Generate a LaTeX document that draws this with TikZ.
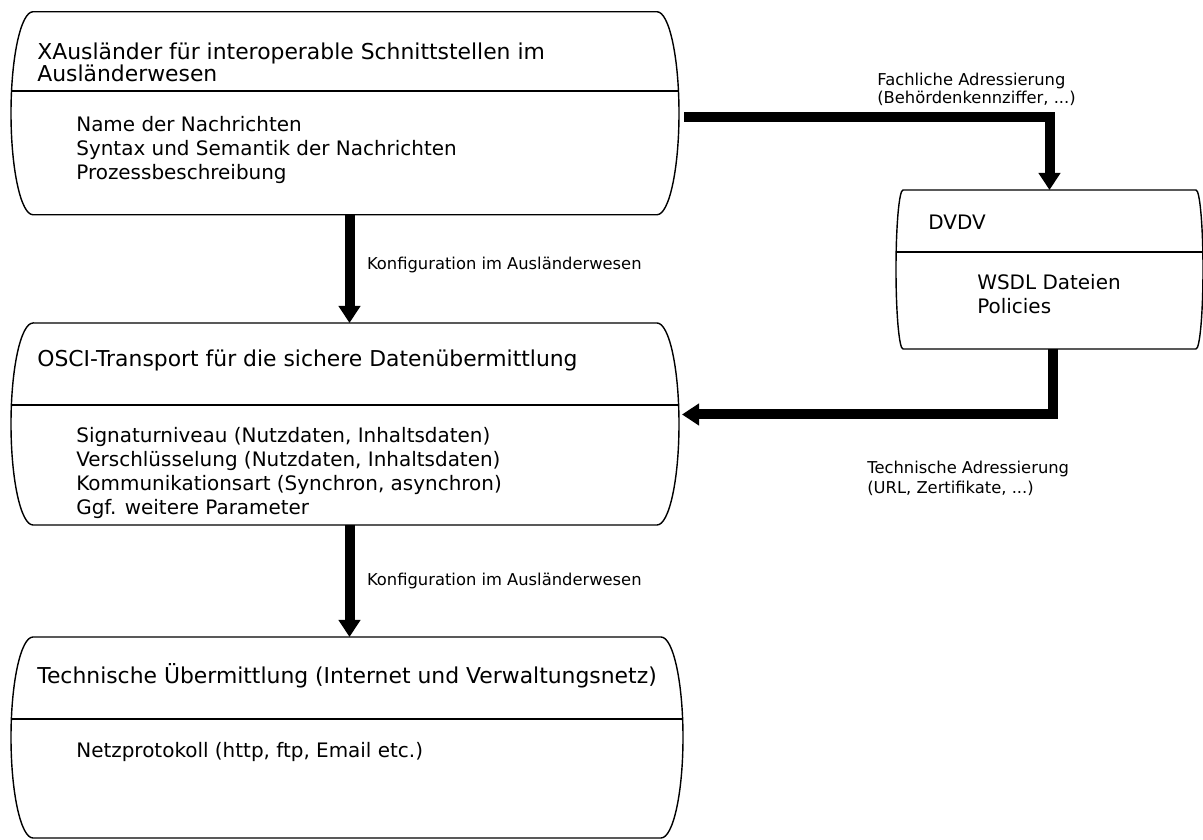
\documentclass[tikz,border=0pt]{standalone}
\usepackage{fontspec}
\setmainfont{DejaVu Sans}
\usetikzlibrary{arrows.meta,calc}

\tikzset{
  area/.style={rectangle, inner sep=0pt, outer sep=0pt},
  outline/.style={line width=0.8pt},
  divider/.style={line width=0.8pt},
  headline/.style={anchor=west, align=left, inner sep=0pt, font=\fontsize{12.45}{12.6}\selectfont},
  itemlines/.style={anchor=west, align=left, inner sep=0pt, font=\fontsize{11.35}{13.8}\selectfont},
  flowlabel/.style={anchor=west, align=left, inner sep=0pt, font=\fontsize{9.3}{10.3}\selectfont},
  flow/.style={line width=0.2cm, -{Triangle[width=0.42cm,length=0.34cm]}}
}

\begin{document}
\begin{tikzpicture}
\useasboundingbox (0,0) rectangle (24.06,16.80);

% areas
\node[area, minimum width=13.36cm, minimum height=4.06cm] (xaus) at (6.900,14.535) {};
\node[area, minimum width=13.36cm, minimum height=4.04cm] (osci) at (6.900,8.320) {};
\node[area, minimum width=13.44cm, minimum height=4.02cm] (netz) at (6.940,2.050) {};
\node[area, minimum width=6.14cm, minimum height=3.18cm] (dvdv) at (20.990,11.410) {};

% outlines
\draw[outline] ($(xaus.north west)+(0.44,0)$) -- ($(xaus.north east)+(-0.44,0)$)
  arc[start angle=90, end angle=-90, x radius=0.44, y radius=2.03]
  -- ($(xaus.south west)+(0.44,0)$)
  arc[start angle=270, end angle=90, x radius=0.44, y radius=2.03] -- cycle;
\draw[outline] ($(osci.north west)+(0.44,0)$) -- ($(osci.north east)+(-0.44,0)$)
  arc[start angle=90, end angle=-90, x radius=0.44, y radius=2.02]
  -- ($(osci.south west)+(0.44,0)$)
  arc[start angle=270, end angle=90, x radius=0.44, y radius=2.02] -- cycle;
\draw[outline] ($(netz.north west)+(0.44,0)$) -- ($(netz.north east)+(-0.44,0)$)
  arc[start angle=90, end angle=-90, x radius=0.44, y radius=2.01]
  -- ($(netz.south west)+(0.44,0)$)
  arc[start angle=270, end angle=90, x radius=0.44, y radius=2.01] -- cycle;
\draw[outline] ($(dvdv.north west)+(0.14,0)$) -- ($(dvdv.north east)+(-0.14,0)$)
  arc[start angle=90, end angle=-90, x radius=0.14, y radius=1.59]
  -- ($(dvdv.south west)+(0.14,0)$)
  arc[start angle=270, end angle=90, x radius=0.14, y radius=1.59] -- cycle;

% dividers
\draw[divider] (xaus.west |- 0,14.98) -- (xaus.east |- 0,14.98);
\draw[divider] (osci.west |- 0,8.70) -- (osci.east |- 0,8.70);
\draw[divider] (netz.west |- 0,2.42) -- (netz.east |- 0,2.42);
\draw[divider] (dvdv.west |- 0,11.76) -- (dvdv.east |- 0,11.76);

% texts
\node[headline] (xaushead) at (0.74,15.56) {XAusländer für interoperable Schnittstellen im\\Ausländerwesen};
\node[itemlines] (xausitems) at (1.52,13.80) {Name der Nachrichten\\Syntax und Semantik der Nachrichten\\Prozessbeschreibung};
\node[headline] (oscihead) at (0.74,9.60) {OSCI-Transport für die sichere Datenübermittlung};
\node[itemlines] (osciitems) at (1.52,7.34) {Signaturniveau (Nutzdaten, Inhaltsdaten)\\Verschlüsselung (Nutzdaten, Inhaltsdaten)\\Kommunikationsart (Synchron, asynchron)\\Ggf. weitere Parameter};
\node[headline] (netzhead) at (0.74,3.28) {Technische Übermittlung (Internet und Verwaltungsnetz)};
\node[itemlines] (netzitems) at (1.52,1.76) {Netzprotokoll (http, ftp, Email etc.)};
\node[itemlines] (dvdvhead) at (18.56,12.36) {DVDV};
\node[itemlines] (dvdvitems) at (19.54,10.92) {WSDL Dateien\\Policies};

% connectors
\draw[flow] ([xshift=0.09cm]xaus.south) -- ([xshift=0.09cm]osci.north)
  node[flowlabel, pos=0.46, right=0.25cm] (conf1) {Konfiguration im Ausländerwesen};
\draw[flow] ([xshift=0.09cm]osci.south) -- ([xshift=0.09cm]osci.south |- netz.north)
  node[flowlabel, pos=0.5, right=0.25cm] (conf2) {Konfiguration im Ausländerwesen};
\draw[flow] ([xshift=0.10cm, yshift=-0.08cm]xaus.east) -| (dvdv.north);
\draw[flow] ([xshift=0.06cm]dvdv.south) |- ([xshift=0.06cm, yshift=0.19cm]osci.east);

\node[flowlabel] (fachlich) at (17.54,15.02) {Fachliche Adressierung\\(Behördenkennziffer, ...)};
\node[flowlabel, font=\fontsize{9.3}{11.5}\selectfont] (technisch) at (17.34,7.24) {Technische Adressierung\\(URL, Zertifikate, ...)};
\end{tikzpicture}
\end{document}
